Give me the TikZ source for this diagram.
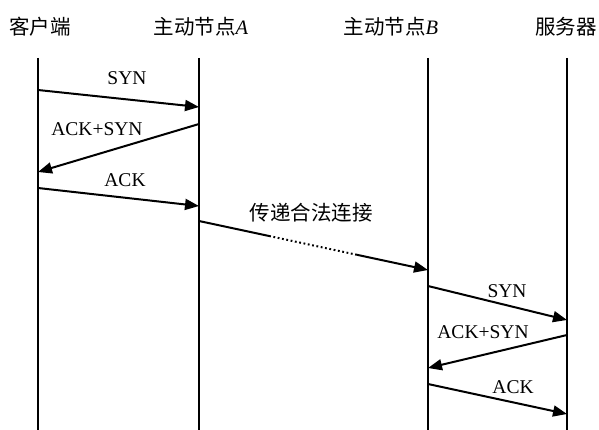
\documentclass[tikz,border=0pt]{standalone}
\usepackage{fontspec}
\setmainfont{Liberation Serif}
\newfontfamily\cjk{Noto Sans CJK SC}
\usetikzlibrary{arrows.meta,calc}
\begin{document}
\begin{tikzpicture}[x=1pt,y=-1pt,
  life/.style={line width=2.2pt},
  msg/.style={line width=2pt,-{Triangle[length=14pt,width=11pt]}},
  lbl/.style={font=\fontsize{19.5}{19.5}\selectfont,inner sep=0pt},
  head/.style={font=\fontsize{20.5}{20.5}\cjk,inner sep=0pt}]
\useasboundingbox (0,0) rectangle (599,430);
% headers
\node[head] (hc) at (40,27) {客户端};
\node[head] (ha) at (201,27) {主动节点\textit{\rmfamily A}};
\node[head] (hb) at (391,27) {主动节点\textit{\rmfamily B}};
\node[head] (hs) at (566,27) {服务器};
% lifelines
\coordinate (ct) at (38,58);  \coordinate (cb) at (38,430);
\coordinate (at) at (199,58); \coordinate (ab) at (199,430);
\coordinate (bt) at (428,58); \coordinate (bb) at (428,430);
\coordinate (st) at (567,58); \coordinate (sb) at (567,430);
\draw[life] (ct) -- (cb);
\draw[life] (at) -- (ab);
\draw[life] (bt) -- (bb);
\draw[life] (st) -- (sb);
% left handshake
\coordinate (m1s) at (38,90);   \coordinate (m1e) at (199,107);
\coordinate (m2s) at (199,124); \coordinate (m2e) at (38,172);
\coordinate (m3s) at (38,188);  \coordinate (m3e) at (199,206);
\draw[msg] (m1s) -- (m1e);
\draw[msg] (m2s) -- (m2e);
\draw[msg] (m3s) -- (m3e);
\node[lbl] (l1) at (127,78) {SYN};
\node[lbl] (l2) at (97,129) {ACK+SYN};
\node[lbl] (l3) at (125,180) {ACK};
% forwarding
\coordinate (fs) at (199,221); \coordinate (fe) at (428,270);
\coordinate (f1) at ($(fs)!0.306!(fe)$);
\coordinate (f2) at ($(fs)!0.69!(fe)$);
\draw[line width=2pt] (fs) -- (f1);
\draw[line width=2pt,dash pattern=on 1.8pt off 2.6pt] (f1) -- (f2);
\draw[msg] (f2) -- (fe);
\node[head] (lf) at (311,213) {传递合法连接};
% right handshake
\coordinate (n1s) at (428,286); \coordinate (n1e) at (567,320);
\coordinate (n2s) at (567,335); \coordinate (n2e) at (428,368);
\coordinate (n3s) at (428,384); \coordinate (n3e) at (567,414);
\draw[msg] (n1s) -- (n1e);
\draw[msg] (n2s) -- (n2e);
\draw[msg] (n3s) -- (n3e);
\node[lbl] (r1) at (507,291) {SYN};
\node[lbl] (r2) at (483,332) {ACK+SYN};
\node[lbl] (r3) at (513,387) {ACK};
\end{tikzpicture}
\end{document}
